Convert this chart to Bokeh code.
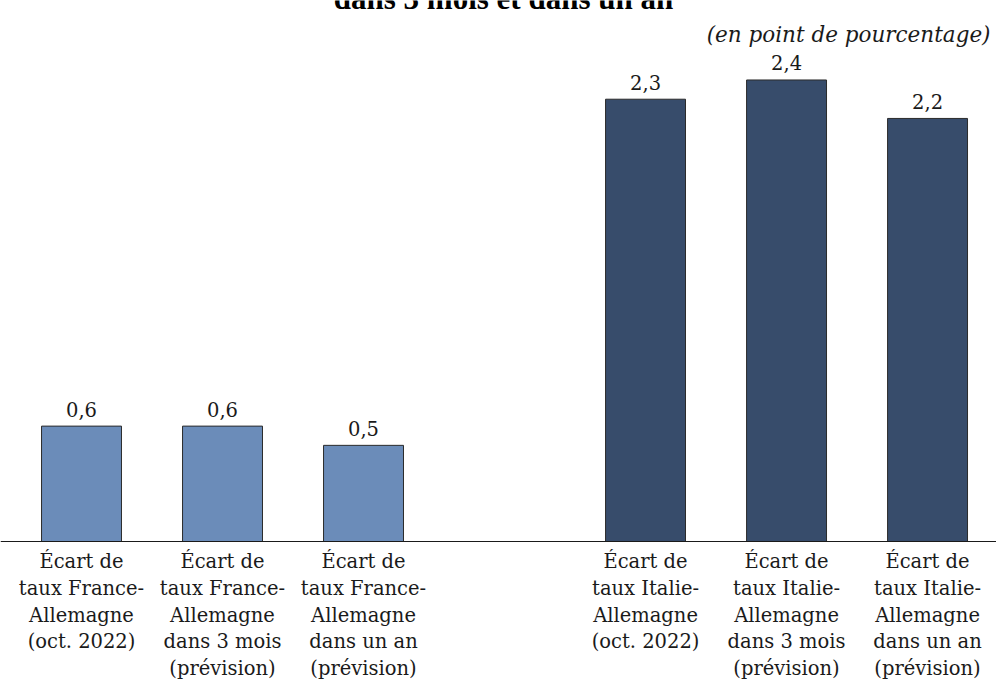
from bokeh.plotting import figure
from bokeh.models import ColumnDataSource, Range1d, Span, Label
from bokeh.embed import file_html
from bokeh.resources import INLINE
from bokeh.core.properties import value

# ---- data ----
title_text = "dans 3 mois et dans un an"
unit_text = "(en point de pourcentage)"

france_labels = [
    "Écart de\ntaux France-\nAllemagne\n(oct. 2022)",
    "Écart de\ntaux France-\nAllemagne\ndans 3 mois\n(prévision)",
    "Écart de\ntaux France-\nAllemagne\ndans un an\n(prévision)",
]
france_values = [0.6, 0.6, 0.5]

italie_labels = [
    "Écart de\ntaux Italie-\nAllemagne\n(oct. 2022)",
    "Écart de\ntaux Italie-\nAllemagne\ndans 3 mois\n(prévision)",
    "Écart de\ntaux Italie-\nAllemagne\ndans un an\n(prévision)",
]
italie_values = [2.3, 2.4, 2.2]

france_color = "#6b8cb9"
italie_color = "#374c6b"

W, H = 996, 679
FONT = "DejaVu Serif"

fr_x = list(range(len(france_values)))
it_x = [len(france_values) + 1 + i for i in range(len(italie_values))]

p = figure(width=W, height=H, output_backend="svg", toolbar_location=None,
           x_range=Range1d(-0.5745, 6.489), y_range=Range1d(-0.7176, 2.8133),
           min_border=0, min_border_left=0, min_border_right=0,
           min_border_top=0, min_border_bottom=0)
p.xaxis.visible = False
p.yaxis.visible = False
p.xgrid.visible = False
p.ygrid.visible = False
p.outline_line_color = None
p.background_fill_color = "white"
p.border_fill_color = "white"

def fmt(v):
    return f"{v:.1f}".replace(".", ",")

for xs, vals, labels, col in [(fr_x, france_values, france_labels, france_color),
                              (it_x, italie_values, italie_labels, italie_color)]:
    src = ColumnDataSource(dict(x=xs, top=vals, txt=[fmt(v) for v in vals]))
    p.vbar(x="x", top="top", bottom=0, width=0.567, source=src,
           fill_color=col, line_color="#2b2b2b", line_width=1)
    p.text(x="x", y="top", text="txt", source=src, text_align="center",
           text_baseline="alphabetic", y_offset=-17,
           text_font=value(FONT), text_font_size="19.5px", text_color="#1a1a1a")
    lx, ly, lt, lo = [], [], [], []
    for x, lab in zip(xs, labels):
        for k, line in enumerate(lab.split("\n")):
            lx.append(x); ly.append(0); lt.append(line); lo.append(20 + 26.75 * k)
    lsrc = ColumnDataSource(dict(x=lx, y=ly, t=lt, o=lo))
    p.text(x="x", y="y", text="t", y_offset="o", source=lsrc, text_align="center",
           text_baseline="alphabetic", text_font=value(FONT),
           text_font_size="19.5px", text_color="#1a1a1a")

p.add_layout(Span(location=0, dimension="width", line_color="#1a1a1a", line_width=1))

p.add_layout(Label(x=503, y=H + 2, x_units="screen", y_units="screen", text=title_text,
                   text_align="center", text_baseline="alphabetic",
                   text_font="Liberation Serif", text_font_style="bold",
                   text_font_size="31px", text_color="#000000"))
p.add_layout(Label(x=990, y=H - 34, x_units="screen", y_units="screen", text=unit_text,
                   text_align="right", text_baseline="alphabetic",
                   text_font=FONT, text_font_style="italic",
                   text_font_size="21.5px", text_color="#1a1a1a"))

open("out.html", "w").write(file_html(p, INLINE))
